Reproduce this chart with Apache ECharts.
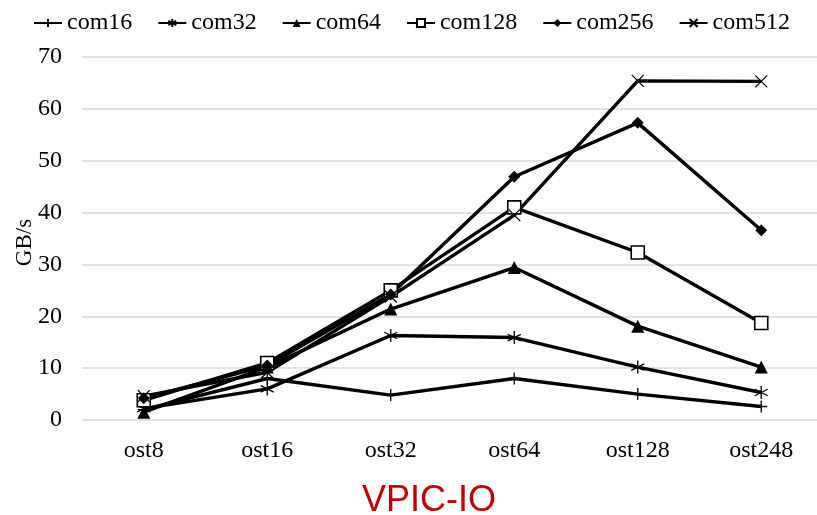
<!DOCTYPE html>
<html><head><meta charset="utf-8">
<script src="https://cdn.jsdelivr.net/npm/echarts@6/dist/echarts.min.js"></script>
<style>html,body{margin:0;padding:0;background:#fff}#c{width:817px;height:515px}</style>
</head><body><div id="c"></div>
<script>
const categories = ['ost8','ost16','ost32','ost64','ost128','ost248'];
const com16  = [2.0, 8.0, 4.8, 8.0, 5.0, 2.6];
const com32  = [2.2, 6.0, 16.3, 15.9, 10.2, 5.3];
const com64  = [1.5, 10.2, 21.4, 29.4, 18.1, 10.2];
const com128 = [3.8, 11.0, 25.0, 41.0, 32.3, 18.7];
const com256 = [4.2, 10.5, 24.2, 46.9, 57.3, 36.6];
const com512 = [4.6, 9.2, 23.8, 39.5, 65.4, 65.3];
const yTicks = [0,10,20,30,40,50,60,70];

const plus = 'path://M5,0L5,10M0,5L10,5';
const aster = 'path://M5,0L5,10M0.7,2.5L9.3,7.5M0.7,7.5L9.3,2.5';
const cross = 'path://M0,0L10,10M0,10L10,0';

function s(name, data, symbol, size, fill, bw){
  return {name, type:'line', data, symbol, symbolSize:size, showSymbol:true,
    lineStyle:{color:'#000', width:3.4},
    itemStyle:{color:fill, borderColor:'#000', borderWidth:bw},
    emphasis:{disabled:true}, z: 2};
}
const chart = echarts.init(document.getElementById('c'), null, {renderer:'canvas'});
chart.setOption({
  animation:false,
  title:{text:'VPIC-IO', left:424, textAlign:'center', top:478,
    textStyle:{color:'#c00000', fontFamily:'Liberation Sans', fontSize:36, fontWeight:'normal'}},
  legend:{top:6, left:28, itemGap:25, itemWidth:28, itemHeight:10,
    textStyle:{fontFamily:'Liberation Serif', fontSize:24, color:'#000'},
    data:['com16','com32','com64','com128','com256','com512']},
  grid:{left:82, width:741, top:57, bottom:95, outerBoundsMode:'none', containLabel:false},
  xAxis:{type:'category', data:categories, boundaryGap:true,
    axisLine:{show:false}, axisTick:{show:false},
    axisLabel:{fontFamily:'Liberation Serif', fontSize:24, color:'#000', margin:19}},
  yAxis:{type:'value', min:yTicks[0], max:yTicks[yTicks.length-1], interval:10,
    name:'GB/s', nameLocation:'middle', nameGap:46, nameRotate:90, nameMoveOverlap:false,
    nameTextStyle:{fontFamily:'Liberation Serif', fontSize:23, color:'#000', padding:[0,8,0,0]},
    axisLine:{show:false}, axisTick:{show:false},
    axisLabel:{fontFamily:'Liberation Serif', fontSize:24, color:'#000', margin:20},
    splitLine:{lineStyle:{color:'#d9d9d9', width:1.5}}},
  series:[
    s('com16', com16, plus, 12, '#000', 1.3),
    s('com32', com32, aster, 13, '#000', 1.3),
    s('com64', com64, 'triangle', 13, '#000', 0),
    s('com128', com128, 'rect', 13, '#fff', 1.6),
    s('com256', com256, 'diamond', 12, '#000', 0),
    s('com512', com512, cross, 12, '#000', 1.3)
  ]
});
</script></body></html>
